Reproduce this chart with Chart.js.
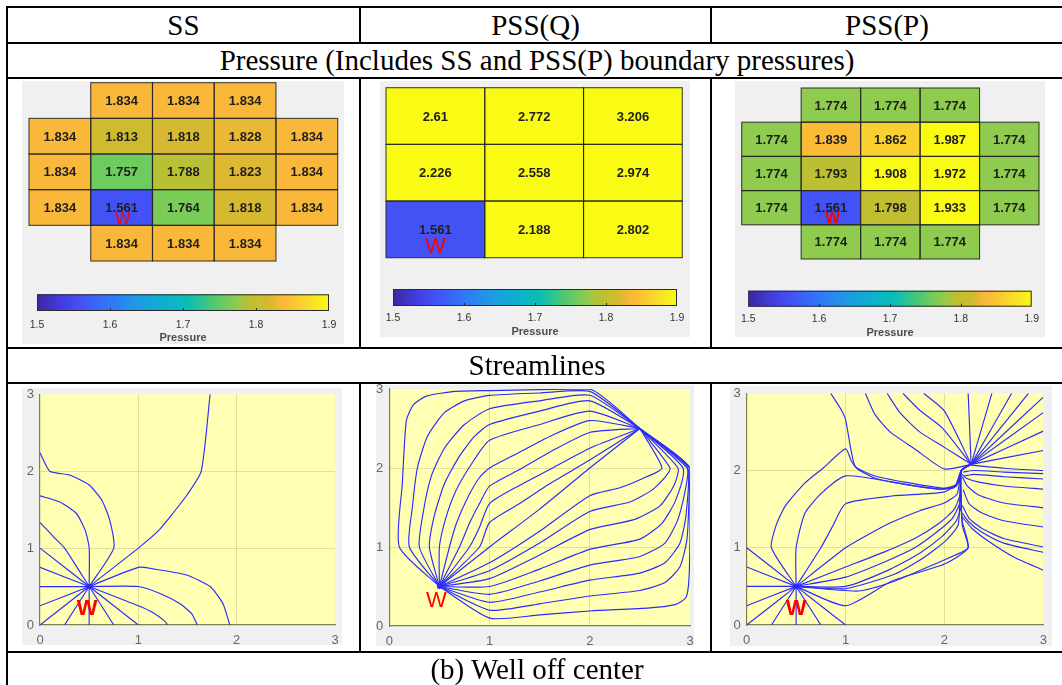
<!DOCTYPE html>
<html>
<head>
<meta charset="utf-8">
<title>Pressure and streamlines - well off center</title>
<script src="https://cdn.jsdelivr.net/npm/chart.js@4.4.1/dist/chart.umd.min.js"></script>
<style>
  body { margin: 0; background: #fff; }
  #fig { position: relative; width: 1062px; height: 685px; overflow: hidden; background: #fff; }
  .hl, .vl { position: absolute; background: #000; z-index: 10; }
  .hl { height: 2px; }
  .vl { width: 2px; }
  .cap { position: absolute; font-family: "Liberation Serif", "Times New Roman", serif; font-size: 29px;
         text-align: center; white-space: nowrap; color: #000; z-index: 5; }
  .gray { position: absolute; background: #f0f0f0; }
  canvas { position: absolute; z-index: 2; }
</style>
</head>
<body>
<div id="fig">
  <!-- table rules -->
  <div class="hl" style="left:6px;top:6px;width:1056px"></div>
  <div class="hl" style="left:6px;top:42px;width:1056px"></div>
  <div class="hl" style="left:6px;top:77px;width:1056px"></div>
  <div class="hl" style="left:6px;top:347px;width:1056px"></div>
  <div class="hl" style="left:6px;top:382px;width:1056px"></div>
  <div class="hl" style="left:6px;top:651px;width:1056px"></div>
  <div class="vl" style="left:6px;top:6px;height:679px"></div>
  <div class="vl" style="left:359px;top:6px;height:38px"></div>
  <div class="vl" style="left:710px;top:6px;height:38px"></div>
  <div class="vl" style="left:359px;top:77px;height:272px"></div>
  <div class="vl" style="left:710px;top:77px;height:272px"></div>
  <div class="vl" style="left:359px;top:382px;height:271px"></div>
  <div class="vl" style="left:710px;top:382px;height:271px"></div>
</div>
<script>
// ---------- data ----------
const columnTitles = ['SS', 'PSS(Q)', 'PSS(P)'];
const pressureCaption = 'Pressure (Includes SS and PSS(P) boundary pressures)';
const streamCaption = 'Streamlines';
const figureCaption = '(b) Well off center';

// cell pressures, top row first; null = no cell
const ssPressure = [
  [null, 1.834, 1.834, 1.834, null],
  [1.834, 1.813, 1.818, 1.828, 1.834],
  [1.834, 1.757, 1.788, 1.823, 1.834],
  [1.834, 1.561, 1.764, 1.818, 1.834],
  [null, 1.834, 1.834, 1.834, null]
];
const pssqPressure = [
  [2.61, 2.772, 3.206],
  [2.226, 2.558, 2.974],
  [1.561, 2.188, 2.802]
];
const psspPressure = [
  [null, 1.774, 1.774, 1.774, null],
  [1.774, 1.839, 1.862, 1.987, 1.774],
  [1.774, 1.793, 1.908, 1.972, 1.774],
  [1.774, 1.561, 1.798, 1.933, 1.774],
  [null, 1.774, 1.774, 1.774, null]
];

const colorbarTicks = [1.5, 1.6, 1.7, 1.8, 1.9];
const axisTicks = [0, 1, 2, 3];
const wellXY = [0.5, 0.5];

// streamline paths, [x, y] in reservoir coordinates
const ssStreamlines = [
  [[0.5,0.5],[0,0.5]],
  [[0.5,0.5],[0,0.75]],
  [[0.5,0.5],[0,1]],
  [[0.5,0.5],[0,0.25]],
  [[0.5,0.5],[0,0]],
  [[0.5,0.5],[0.25,0]],
  [[0.5,0.5],[0.5,0]],
  [[0.5,0.5],[0.75,0]],
  [[0.5,0.5],[1,0]],
  [[0.5,0.5],[1,0.25],[1.15,0.16],[1.26,0.06],[1.3,0]],
  [[0.5,0.5],[1,0.5],[1.22,0.41],[1.42,0.28],[1.54,0.15],[1.6,0]],
  [[0.5,0.5],[1,0.75],[1.15,0.73],[1.49,0.65],[1.73,0.5],[1.86,0.28],[1.93,0]],
  [[0.5,0.5],[1,1],[1.2,1.22],[1.35,1.45],[1.5,1.7],[1.64,2],[1.73,3]],
  [[0.5,0.5],[0.25,1],[0.15,1.13],[0.07,1.24],[0,1.33]],
  [[0.5,0.5],[0.5,1],[0.46,1.23],[0.37,1.45],[0.2,1.6],[0,1.68]],
  [[0.5,0.5],[0.75,1],[0.71,1.36],[0.63,1.62],[0.5,1.82],[0.3,1.95],[0.1,2],[0,2.24]]
];

const pssqStreamlines = [
  [[0.5,0.5],[0.1,1],[0.13,1.8],[0.17,2.6],[0.24,2.8],[0.37,2.91],[0.66,2.97],[1,2.98],[2,3],[2.5,2.5]],
  [[0.5,0.5],[0.2,1],[0.23,1.5],[0.28,2.0],[0.38,2.4],[0.55,2.7],[0.75,2.85],[1,2.92],[1.5,2.95],[2,2.97],[2.5,2.5]],
  [[0.5,0.5],[0.3,1],[0.34,1.45],[0.42,1.9],[0.55,2.25],[0.75,2.55],[1,2.75],[1.5,2.85],[2,2.92],[2.5,2.5]],
  [[0.5,0.5],[0.4,1],[0.45,1.4],[0.55,1.8],[0.7,2.15],[0.85,2.4],[1,2.55],[1.5,2.72],[2,2.85],[2.5,2.5]],
  [[0.5,0.5],[0.5,1],[0.56,1.35],[0.66,1.7],[0.82,2.05],[1,2.35],[1.5,2.55],[2,2.72],[2.5,2.5]],
  [[0.5,0.5],[0.6,1],[0.67,1.3],[0.78,1.62],[0.9,1.88],[1,2.0],[1.3,2.2],[1.6,2.4],[2,2.6],[2.5,2.5]],
  [[0.5,0.5],[0.7,1],[0.8,1.3],[0.9,1.55],[1,1.77],[1.3,1.98],[1.6,2.2],[2,2.45],[2.5,2.5]],
  [[0.5,0.5],[0.8,1],[0.9,1.25],[1,1.55],[1.3,1.78],[1.6,1.98],[2,2.25],[2.5,2.5]],
  [[0.5,0.5],[0.9,1],[1,1.31],[1.3,1.55],[1.6,1.8],[2,2.1],[2.5,2.5]],
  [[0.5,0.5],[1,1],[1.5,1.48],[2,2],[2.5,2.5]],
  [[0.5,0.5],[1,0.1],[1.5,0.14],[2,0.19],[2.6,0.23],[2.85,0.27],[2.96,0.36],[2.99,0.6],[3,1.2],[3,2],[2.5,2.5]],
  [[0.5,0.5],[1,0.2],[1.5,0.28],[2,0.38],[2.5,0.45],[2.75,0.55],[2.9,0.75],[2.97,1.1],[2.99,1.6],[3,2],[2.5,2.5]],
  [[0.5,0.5],[1,0.3],[1.5,0.43],[2,0.58],[2.5,0.67],[2.75,0.8],[2.9,1.05],[2.96,1.4],[2.98,2],[2.5,2.5]],
  [[0.5,0.5],[1,0.4],[1.5,0.57],[2,0.77],[2.5,0.88],[2.75,1.05],[2.88,1.35],[2.95,1.7],[2.97,2],[2.5,2.5]],
  [[0.5,0.5],[1,0.5],[1.5,0.72],[2,0.97],[2.5,1.1],[2.72,1.3],[2.86,1.6],[2.93,2],[2.5,2.5]],
  [[0.5,0.5],[1,0.6],[1.5,0.9],[2,1.22],[2.45,1.35],[2.7,1.52],[2.84,1.78],[2.88,2],[2.5,2.5]],
  [[0.5,0.5],[1,0.7],[1.5,1.05],[2,1.45],[2.4,1.57],[2.62,1.72],[2.75,1.88],[2.8,2],[2.5,2.5]],
  [[0.5,0.5],[1,0.8],[1.5,1.2],[2,1.65],[2.3,1.75],[2.55,1.88],[2.72,2],[2.5,2.5]]
];

const psspStreamlines = [
  [[0.5,0.5],[0,0.5]],
  [[0.5,0.5],[0,0.75]],
  [[0.5,0.5],[0,1]],
  [[0.5,0.5],[0,0.25]],
  [[0.5,0.5],[0,0]],
  [[0.5,0.5],[0.25,0]],
  [[0.5,0.5],[0.5,0]],
  [[0.5,0.5],[0.75,0]],
  [[0.5,0.5],[1,0]],
  [[0.5,0.5],[0.25,1],[0.3,1.3],[0.39,1.54],[0.59,1.84],[0.78,2.04],[1,2.28],[1.06,2.12],[1.12,2.02],[1.3,1.9],[1.6,1.82],[1.95,1.76],[2.1,1.78],[2.17,2],[2.27,2.08]],
  [[0.5,0.5],[0.5,1],[0.59,1.45],[0.76,1.71],[1,1.93],[1.43,1.86],[1.94,1.76],[2.12,1.82],[2.17,2],[2.27,2.08]],
  [[0.5,0.5],[0.75,1],[0.87,1.28],[1,1.57],[1.47,1.67],[1.99,1.72],[2.14,1.84],[2.17,2],[2.27,2.08]],
  [[0.5,0.5],[1,1],[1.2,1.15],[1.45,1.32],[1.75,1.48],[2,1.58],[2.13,1.7],[2.17,2],[2.27,2.08]],
  [[0.5,0.5],[1,0.75],[1.4,0.95],[1.7,1.12],[1.95,1.32],[2.1,1.5],[2.16,1.7],[2.17,2],[2.27,2.08]],
  [[0.5,0.5],[1,0.62],[1.4,0.82],[1.7,1.0],[1.92,1.2],[2.08,1.38],[2.16,1.6],[2.17,2],[2.27,2.08]],
  [[0.5,0.5],[1,0.5],[1.45,0.72],[1.75,0.93],[1.98,1.15],[2.12,1.35],[2.17,1.55],[2.17,2],[2.27,2.08]],
  [[0.5,0.5],[1,0.47],[1.5,0.66],[1.8,0.88],[2.02,1.1],[2.14,1.3],[2.17,2],[2.27,2.08]],
  [[0.5,0.5],[1.13,0.44],[1.5,0.57],[1.85,0.76],[2.1,0.9],[2.24,1],[2.18,1.3],[2.17,2],[2.27,2.08]],
  [[0.5,0.5],[1,0.25],[1.47,0.57],[2,0.79],[2.24,1],[2.18,1.35],[2.17,2],[2.27,2.08]],
  [[3,2.0],[2.6,2.03],[2.27,2.07]],
  [[3,1.96],[2.6,1.98],[2.3,2.0],[2.19,1.98]],
  [[3,1.89],[2.6,1.92],[2.3,1.95],[2.2,1.93]],
  [[3,1.76],[2.6,1.8],[2.35,1.85],[2.22,1.9],[2.18,1.95]],
  [[3,1.52],[2.6,1.58],[2.35,1.68],[2.23,1.8],[2.18,1.92]],
  [[3,1.27],[2.6,1.35],[2.38,1.45],[2.25,1.57],[2.19,1.75]],
  [[3,1.01],[2.6,1.12],[2.38,1.25],[2.25,1.38],[2.18,1.55]],
  [[3,0.94],[2.6,1.06],[2.38,1.2],[2.25,1.33],[2.18,1.45]],
  [[3,0.71],[2.7,0.88],[2.45,1.08],[2.28,1.25],[2.18,1.4]],
  [[0.85,3],[0.95,2.8],[1,2.66],[1.05,2.3],[1.1,2.05],[1.3,1.93],[1.6,1.85],[2,1.77],[2.12,1.8],[2.17,2]],
  [[1.2,3],[1.3,2.72],[1.45,2.5],[1.7,2.28],[2,2.02],[2.27,2.08]],
  [[1.42,3],[1.55,2.75],[1.75,2.5],[2,2.3],[2.27,2.08]],
  [[1.58,3],[1.75,2.78],[1.98,2.55],[2.27,2.08]],
  [[1.79,3],[2,2.77],[2.27,2.08]],
  [[2.24,3],[2.27,2.08]],
  [[2.48,3],[2.27,2.08]],
  [[2.68,3],[2.27,2.08]],
  [[2.85,3],[2.27,2.08]],
  [[3,2.95],[2.27,2.08]],
  [[3,2.75],[2.27,2.08]],
  [[3,2.51],[2.27,2.08]],
  [[3,2.26],[2.27,2.08]]
];

// ---------- colours ----------
const parulaStops = [
  [0.00, [58, 40, 160]],
  [0.08, [66, 60, 222]],
  [0.15, [67, 81, 245]],
  [0.25, [48, 120, 248]],
  [0.35, [30, 155, 228]],
  [0.45, [10, 180, 200]],
  [0.52, [12, 190, 180]],
  [0.60, [75, 200, 115]],
  [0.64, [108, 203, 95]],
  [0.685, [142, 203, 78]],
  [0.72, [184, 192, 52]],
  [0.78, [206, 188, 46]],
  [0.80, [216, 184, 49]],
  [0.835, [250, 184, 58]],
  [0.87, [252, 192, 50]],
  [0.905, [249, 208, 47]],
  [1.00, [249, 251, 20]]
];
function parula(t) {
  t = Math.min(1, Math.max(0, t));
  for (let i = 1; i < parulaStops.length; i++) {
    const [t1, c1] = parulaStops[i];
    if (t <= t1) {
      const [t0, c0] = parulaStops[i - 1];
      const f = (t - t0) / (t1 - t0);
      const c = c0.map((v, k) => Math.round(v + (c1[k] - v) * f));
      return `rgb(${c[0]},${c[1]},${c[2]})`;
    }
  }
  return 'rgb(249,251,20)';
}
const cMin = colorbarTicks[0], cMax = colorbarTicks[colorbarTicks.length - 1];
const pressureColor = v => parula((v - cMin) / (cMax - cMin));

const streamBlue = '#2b2bff';
const sansFont = '"Liberation Sans", Arial, Helvetica, sans-serif';
Chart.defaults.font.family = sansFont;

// ---------- page layout (pixels) ----------
const fig = document.getElementById('fig');

const heatPanels = [
  { values: ssPressure, gray: {l: 22, t: 81, w: 322, h: 263}, cells: {l: 29, r: 337.7, t: 82.7, b: 261},
    bar: {l: 29, r: 337.7, t: 294.3, b: 311}, labelGap: 14, titleY: 338.3, wellAt: [1.52, 1.155], wellFont: '16px' },
  { values: pssqPressure, gray: {l: 380, t: 81, w: 310, h: 256}, cells: {l: 386, r: 682.3, t: 87.7, b: 257.7},
    bar: {l: 386, r: 682, t: 289, b: 306}, labelGap: 12, titleY: 332, wellAt: [0.5, 0.19], wellFont: '22px' },
  { values: psspPressure, gray: {l: 735, t: 81, w: 310, h: 256}, cells: {l: 741.7, r: 1039, t: 88, b: 259},
    bar: {l: 741.7, r: 1038.3, t: 290.7, b: 306.7}, labelGap: 12.3, titleY: 333, wellAt: [1.53, 1.19], wellFont: 'bold 16px' }
];

const streamPanels = [
  { paths: ssStreamlines, gray: {l: 22, t: 388, w: 320, h: 257}, plot: {l: 40, r: 335, t: 394.3, b: 625},
    tag: [0.48, 0.21], tagFont: 'bold 22px' },
  { paths: pssqStreamlines, gray: {l: 376, t: 385, w: 318, h: 261}, plot: {l: 389.3, r: 690, t: 389, b: 626},
    tag: [0.47, 0.32], tagFont: '22px' },
  { paths: psspStreamlines, gray: {l: 730, t: 386, w: 322, h: 260}, plot: {l: 746.7, r: 1043.3, t: 393.3, b: 625},
    tag: [0.5, 0.21], tagFont: 'bold 22px' }
];

function addDiv(cls, rect, text) {
  const d = document.createElement('div');
  d.className = cls;
  d.style.left = rect.l + 'px';
  d.style.top = rect.t + 'px';
  d.style.width = rect.w + 'px';
  d.style.height = rect.h + 'px';
  if (text !== undefined) {
    d.textContent = text;
    d.style.lineHeight = rect.h + 'px';
  }
  fig.appendChild(d);
  return d;
}

function addCanvas(rect) {
  const c = document.createElement('canvas');
  c.width = rect.w;
  c.height = rect.h;
  c.style.left = rect.l + 'px';
  c.style.top = rect.t + 'px';
  fig.appendChild(c);
  return c;
}

// captions
addDiv('cap', {l: 8, t: 8, w: 351, h: 34}, columnTitles[0]);
addDiv('cap', {l: 361, t: 8, w: 349, h: 34}, columnTitles[1]);
addDiv('cap', {l: 712, t: 8, w: 350, h: 34}, columnTitles[2]);
addDiv('cap', {l: 8, t: 44, w: 1058, h: 33}, pressureCaption);
addDiv('cap', {l: 8, t: 349, w: 1058, h: 33}, streamCaption);
addDiv('cap', {l: 8, t: 653, w: 1058, h: 32}, figureCaption);

// ---------- plugins ----------
const cellsPlugin = {
  id: 'cells',
  afterDatasetsDraw(chart, args, opts) {
    const { ctx } = chart;
    const xs = chart.scales.x, ys = chart.scales.y;
    const grid = opts.values;
    const n = grid.length;
    const boxes = [];
    grid.forEach((row, r) => row.forEach((v, c) => {
      if (v === null) return;
      boxes.push({
        v,
        x0: xs.getPixelForValue(c), x1: xs.getPixelForValue(c + 1),
        y0: ys.getPixelForValue(n - r), y1: ys.getPixelForValue(n - r - 1)
      });
    }));
    ctx.save();
    boxes.forEach(b => {
      ctx.fillStyle = pressureColor(b.v);
      ctx.fillRect(b.x0, b.y0, b.x1 - b.x0, b.y1 - b.y0);
    });
    ctx.strokeStyle = 'rgba(35,35,35,0.85)';
    ctx.lineWidth = 1.1;
    boxes.forEach(b => ctx.strokeRect(b.x0, b.y0, b.x1 - b.x0, b.y1 - b.y0));
    ctx.fillStyle = '#1e1e1e';
    ctx.font = 'bold 13px ' + sansFont;
    ctx.textAlign = 'center';
    ctx.textBaseline = 'middle';
    boxes.forEach(b => ctx.fillText(String(b.v), (b.x0 + b.x1) / 2, (b.y0 + b.y1) / 2 + 1));
    ctx.fillStyle = '#ff0000';
    ctx.font = opts.wellFont + ' ' + sansFont;
    ctx.fillText('W', xs.getPixelForValue(opts.wellAt[0]), ys.getPixelForValue(opts.wellAt[1]));
    ctx.restore();
  }
};

const colorbarPlugin = {
  id: 'colorbar',
  beforeDatasetsDraw(chart) {
    const { ctx, chartArea: a } = chart;
    const xs = chart.scales.x;
    const g = ctx.createLinearGradient(xs.getPixelForValue(cMin), 0, xs.getPixelForValue(cMax), 0);
    for (let i = 0; i <= 48; i++) g.addColorStop(i / 48, parula(i / 48));
    ctx.save();
    ctx.fillStyle = g;
    ctx.fillRect(a.left, a.top, a.width, a.height);
    ctx.strokeStyle = '#2b2b2b';
    ctx.lineWidth = 1;
    ctx.beginPath();
    colorbarTicks.slice(1, -1).forEach(v => {
      const px = Math.round(xs.getPixelForValue(v)) + 0.5;
      ctx.moveTo(px, a.bottom);
      ctx.lineTo(px, a.bottom - 3);
    });
    ctx.stroke();
    ctx.strokeRect(a.left + 0.5, a.top + 0.5, a.width - 1, a.height - 1);
    ctx.restore();
  }
};

const plotBgPlugin = {
  id: 'plotBg',
  beforeDraw(chart) {
    const { ctx, chartArea: a } = chart;
    ctx.save();
    ctx.fillStyle = '#ffffb4';
    ctx.fillRect(a.left, a.top, a.width, a.height);
    ctx.restore();
  }
};

const wellTagPlugin = {
  id: 'wellTag',
  afterDatasetsDraw(chart, args, opts) {
    const { ctx } = chart;
    ctx.save();
    ctx.fillStyle = '#ff0000';
    ctx.font = opts.font + ' ' + sansFont;
    ctx.textAlign = 'center';
    ctx.textBaseline = 'middle';
    ctx.fillText('W', chart.scales.x.getPixelForValue(opts.at[0]), chart.scales.y.getPixelForValue(opts.at[1]));
    ctx.restore();
  }
};

// ---------- pressure maps ----------
heatPanels.forEach(p => {
  addDiv('gray', p.gray);
  const g = p.gray;
  const rows = p.values.length, cols = p.values[0].length;

  new Chart(addCanvas(g), {
    type: 'scatter',
    data: { datasets: [] },
    options: {
      responsive: false,
      animation: false,
      layout: { padding: { left: p.cells.l - g.l, right: g.l + g.w - p.cells.r, top: p.cells.t - g.t, bottom: g.t + g.h - p.cells.b } },
      plugins: {
        legend: { display: false },
        tooltip: { enabled: false },
        cells: { values: p.values, wellAt: p.wellAt, wellFont: p.wellFont }
      },
      scales: {
        x: { type: 'linear', min: 0, max: cols, display: false },
        y: { type: 'linear', min: 0, max: rows, display: false }
      }
    },
    plugins: [cellsPlugin]
  });

  // colour bar with its own pressure axis
  const labelSize = 10.5, titleSize = 11;
  const top = Math.floor(p.bar.t - 8);
  const axisH = p.titleY + titleSize * 0.6 - p.bar.b;
  const cb = { l: g.l, t: top, w: g.w, h: Math.ceil(p.titleY + 9 - top) };
  new Chart(addCanvas(cb), {
    type: 'scatter',
    data: { datasets: [] },
    options: {
      responsive: false,
      animation: false,
      layout: { padding: { left: p.bar.l - g.l, right: g.l + g.w - p.bar.r, top: p.bar.t - top, bottom: cb.h - (p.bar.b - top) - axisH } },
      plugins: { legend: { display: false }, tooltip: { enabled: false } },
      scales: {
        x: {
          type: 'linear', min: cMin, max: cMax,
          afterBuildTicks: s => { s.ticks = colorbarTicks.map(v => ({ value: v })); },
          afterFit: s => { s.height = axisH; },
          grid: { display: false, drawTicks: false },
          border: { display: false },
          ticks: { font: { size: labelSize }, color: '#333', padding: p.labelGap - labelSize * 0.6, maxRotation: 0,
                   callback: v => v.toFixed(1) },
          title: { display: true, text: 'Pressure', color: '#4d4d4d', font: { size: titleSize, weight: 'bold' }, padding: 0 }
        },
        y: { type: 'linear', min: 0, max: 1, display: false }
      }
    },
    plugins: [colorbarPlugin]
  });
});

// ---------- streamline plots ----------
streamPanels.forEach(p => {
  addDiv('gray', p.gray);
  const g = p.gray;
  const cv = { l: g.l - 10, t: g.t - 10, w: g.w + 20, h: g.h + 20 };
  const yAxisW = 14, xAxisH = 26;

  const datasets = p.paths.map(path => ({
    data: path.map(([x, y]) => ({ x, y })),
    showLine: true,
    borderColor: streamBlue,
    borderWidth: 1.15,
    pointRadius: 0,
    tension: 0.2
  }));
  datasets.push({
    data: [{ x: wellXY[0], y: wellXY[1] }],
    pointRadius: 2.5,
    pointBackgroundColor: streamBlue,
    pointBorderWidth: 0
  });

  const gridColor = c => (c.tick && c.tick.value > 0 && c.tick.value < 3) ? 'rgba(60,60,30,0.16)' : 'rgba(0,0,0,0)';
  const tickFont = { size: 13 };

  new Chart(addCanvas(cv), {
    type: 'scatter',
    data: { datasets },
    options: {
      responsive: false,
      animation: false,
      layout: { padding: {
        left: p.plot.l - cv.l - yAxisW,
        right: cv.l + cv.w - p.plot.r,
        top: p.plot.t - cv.t,
        bottom: cv.t + cv.h - p.plot.b - xAxisH
      } },
      plugins: {
        legend: { display: false },
        tooltip: { enabled: false },
        wellTag: { at: p.tag, font: p.tagFont }
      },
      scales: {
        x: {
          type: 'linear', min: 0, max: 3,
          afterBuildTicks: s => { s.ticks = axisTicks.map(v => ({ value: v })); },
          afterFit: s => { s.height = xAxisH; },
          grid: { color: gridColor, drawTicks: false },
          border: { color: '#7f7f48', width: 1.2 },
          ticks: { font: tickFont, color: '#666', padding: 8 }
        },
        y: {
          type: 'linear', min: 0, max: 3,
          afterBuildTicks: s => { s.ticks = axisTicks.map(v => ({ value: v })); },
          afterFit: s => { s.width = yAxisW; },
          grid: { color: gridColor, drawTicks: false },
          border: { color: '#7f7f48', width: 1.2 },
          ticks: { font: tickFont, color: '#666', padding: 6 }
        }
      }
    },
    plugins: [plotBgPlugin, wellTagPlugin]
  });
});
</script>
</body>
</html>
